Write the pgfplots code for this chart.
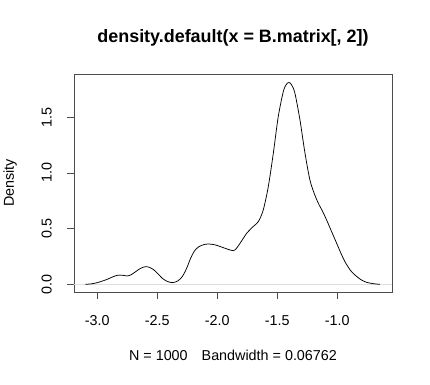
\documentclass[border=0pt]{standalone}
\usepackage{pgfplots}
\pgfplotsset{compat=1.18}
\usepackage{fontspec}
\setmainfont{Liberation Sans}
\begin{document}
\begin{tikzpicture}
\begin{axis}[
  name=ax,
  scale only axis,
  width=318bp, height=218bp,
  xmin=-3.194, xmax=-0.544,
  ymin=-0.069, ymax=1.889,
  xtick={-3,-2.5,-2,-1.5,-1},
  xticklabels={-3.0,-2.5,-2.0,-1.5,-1.0},
  ytick={0,0.5,1,1.5},
  yticklabels={0.0,0.5,1.0,1.5},
  xtick pos=lower, ytick pos=left,
  tick align=outside,
  major tick length=7bp,
  axis line style={black!70, line width=0.8bp},
  every tick/.style={black!70, line width=0.8bp},
  tick label style={font=\fontsize{14.4}{17}\selectfont},
  yticklabel style={rotate=90, anchor=center, yshift=20.3bp},
  xticklabel style={anchor=center, yshift=-21.7bp},
  every axis title shift=0pt,
  title={density.default(x = B.matrix[, 2])},
  title style={font=\fontsize{18}{21}\selectfont\bfseries, at={(axis description cs:0.5,1.165)}, anchor=center},
  xlabel={N = 1000\hspace{14bp}Bandwidth = 0.06762},
  xlabel style={font=\fontsize{14.4}{17}\selectfont, at={(axis description cs:0.5,-0.289)}, anchor=center},
  ylabel={Density},
  ylabel style={font=\fontsize{14.4}{17}\selectfont, at={(axis description cs:-0.201,0.5)}, anchor=center},
]
\addplot[gray!25, line width=0.6bp] coordinates {(-3.194,0) (-0.544,0)};
\addplot[black, line width=0.75bp, smooth, tension=0.5] coordinates {
(-3.10,0.0)
(-3.05,0.004)
(-3.00,0.015)
(-2.95,0.032)
(-2.917,0.045)
(-2.875,0.065)
(-2.833,0.081)
(-2.79,0.082)
(-2.75,0.075)
(-2.715,0.088)
(-2.68,0.114)
(-2.64,0.143)
(-2.597,0.159)
(-2.56,0.150)
(-2.528,0.129)
(-2.49,0.09)
(-2.458,0.054)
(-2.42,0.028)
(-2.375,0.015)
(-2.33,0.030)
(-2.292,0.069)
(-2.255,0.145)
(-2.222,0.234)
(-2.19,0.300)
(-2.153,0.338)
(-2.11,0.357)
(-2.069,0.362)
(-2.02,0.355)
(-1.972,0.338)
(-1.92,0.318)
(-1.867,0.302)
(-1.839,0.325)
(-1.80,0.385)
(-1.755,0.458)
(-1.70,0.52)
(-1.658,0.563)
(-1.617,0.668)
(-1.575,0.877)
(-1.533,1.177)
(-1.492,1.506)
(-1.45,1.730)
(-1.425,1.795)
(-1.402,1.813)
(-1.38,1.790)
(-1.353,1.716)
(-1.311,1.476)
(-1.269,1.177)
(-1.228,0.937)
(-1.19,0.81)
(-1.158,0.728)
(-1.12,0.65)
(-1.089,0.578)
(-1.05,0.48)
(-1.005,0.368)
(-0.97,0.28)
(-0.936,0.203)
(-0.89,0.125)
(-0.853,0.084)
(-0.80,0.040)
(-0.756,0.018)
(-0.70,0.006)
(-0.645,0.0)
};
\end{axis}
\path ([xshift=-74bp,yshift=-93bp]ax.south west) rectangle ([xshift=38bp,yshift=74bp]ax.north east);
\end{tikzpicture}
\end{document}
